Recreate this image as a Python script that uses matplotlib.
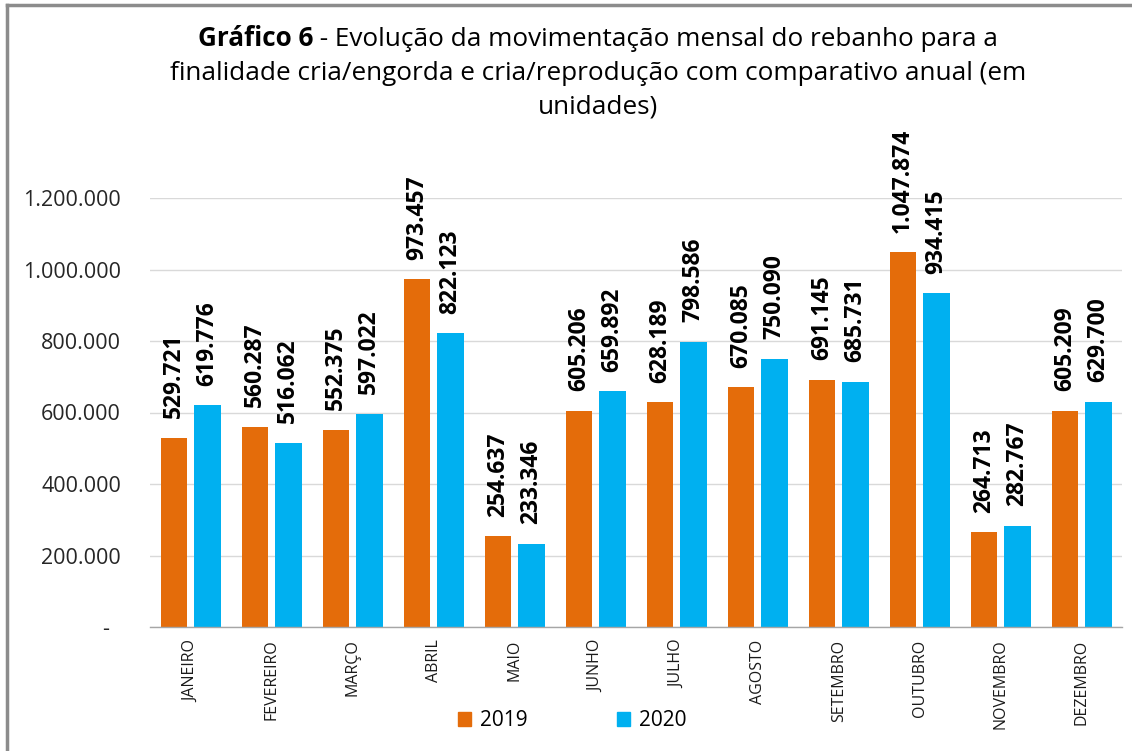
import matplotlib
matplotlib.use("Agg")
import matplotlib.pyplot as plt
from matplotlib.patches import Patch
from matplotlib.lines import Line2D
import numpy as np

plt.rcParams['font.family'] = ['Open Sans', 'DejaVu Sans']

months = ["JANEIRO", "FEVEREIRO", "MARÇO", "ABRIL", "MAIO", "JUNHO", "JULHO",
          "AGOSTO", "SETEMBRO", "OUTUBRO", "NOVEMBRO", "DEZEMBRO"]
values_2019 = [529721, 560287, 552375, 973457, 254637, 605206, 628189,
               670085, 691145, 1047874, 264713, 605209]
values_2020 = [619776, 516062, 597022, 822123, 233346, 659892, 798586,
               750090, 685731, 934415, 282767, 629700]
series_names = ["2019", "2020"]
yticks = [0, 200000, 400000, 600000, 800000, 1000000, 1200000]
ytick_labels = ["-  ", "200.000", "400.000", "600.000", "800.000", "1.000.000", "1.200.000"]

ORANGE = "#E46C0A"
BLUE = "#00B0F0"

W, H = 1132, 751
fig = plt.figure(figsize=(W / 100, H / 100), dpi=100)

def fx(px):
    return px / W

def fy(py):
    return 1 - py / H

left, right, top, bottom = 150.2, 1122.2, 198, 627
ax = fig.add_axes([fx(left), fy(bottom), fx(right) - fx(left), fy(top) - fy(bottom)])

x = np.arange(len(months))
bw = 0.33
off = 0.206
b1 = ax.bar(x - off, values_2019, bw, color=ORANGE, zorder=3)
b2 = ax.bar(x + off, values_2020, bw, color=BLUE, zorder=3)

def fmt(v):
    return f"{v:,}".replace(",", ".")

for bars, vals in ((b1, values_2019), (b2, values_2020)):
    for rect, v in zip(bars, vals):
        ax.annotate(fmt(v), (rect.get_x() + rect.get_width() / 2, v),
                    xytext=(0, 14), textcoords="offset points",
                    rotation=90, ha="center", va="bottom",
                    fontsize=16.5, fontweight="bold", color="black",
                    annotation_clip=False)

ax.set_xlim(-0.5, len(months) - 0.5)
ax.set_ylim(0, 1200000)
ax.set_yticks(yticks)
ax.set_yticklabels(ytick_labels, fontsize=15.5, color="#262626")
ax.set_xticks(x)
ax.set_xticklabels(months, rotation=90, fontsize=11.5, color="#1a1a1a", va="top")
ax.tick_params(axis="y", length=0, pad=21)
ax.tick_params(axis="x", length=0, pad=9)
ax.grid(axis="y", color="#D9D9D9", linewidth=1, zorder=0)
ax.set_axisbelow(True)
for s in ("top", "right", "left"):
    ax.spines[s].set_visible(False)
ax.spines["bottom"].set_color("#A6A6A6")
ax.spines["bottom"].set_linewidth(1)
ax.spines["bottom"].set_zorder(4)

# Legend
handles = [Patch(color=ORANGE), Patch(color=BLUE)]
fig.legend(handles, series_names, loc="center", bbox_to_anchor=(fx(572), fy(721)),
           ncol=2, frameon=False, fontsize=15, handlelength=0.65, handleheight=0.65,
           handletextpad=0.4, columnspacing=4.3)

# Title
renderer = fig.canvas.get_renderer()
cx = 598
tsize = 18.8
t_bold = fig.text(0, 0, "Gráfico 6", fontsize=tsize, fontweight="bold", va="baseline", ha="left")
t_rest = fig.text(0, 0, " - Evolução da movimentação mensal do rebanho para a", fontsize=tsize,
                  va="baseline", ha="left")
wb = t_bold.get_window_extent(renderer).width
wr = t_rest.get_window_extent(renderer).width
start = cx - (wb + wr) / 2
t_bold.set_position((fx(start), fy(46)))
t_rest.set_position((fx(start + wb), fy(46)))
fig.text(fx(cx), fy(80), "finalidade cria/engorda e cria/reprodução com comparativo anual (em",
         fontsize=tsize, ha="center", va="baseline")
fig.text(fx(cx), fy(114), "unidades)", fontsize=tsize, ha="center", va="baseline")

# Outer border (top and left visible)
fig.add_artist(Line2D([fx(7), fx(7)], [fy(5), 0], transform=fig.transFigure,
                      color="#8C8C8C", linewidth=2.5))
fig.add_artist(Line2D([fx(7), 1], [fy(5), fy(5)], transform=fig.transFigure,
                      color="#8C8C8C", linewidth=2.5))

fig.savefig("out.png", dpi=100)
